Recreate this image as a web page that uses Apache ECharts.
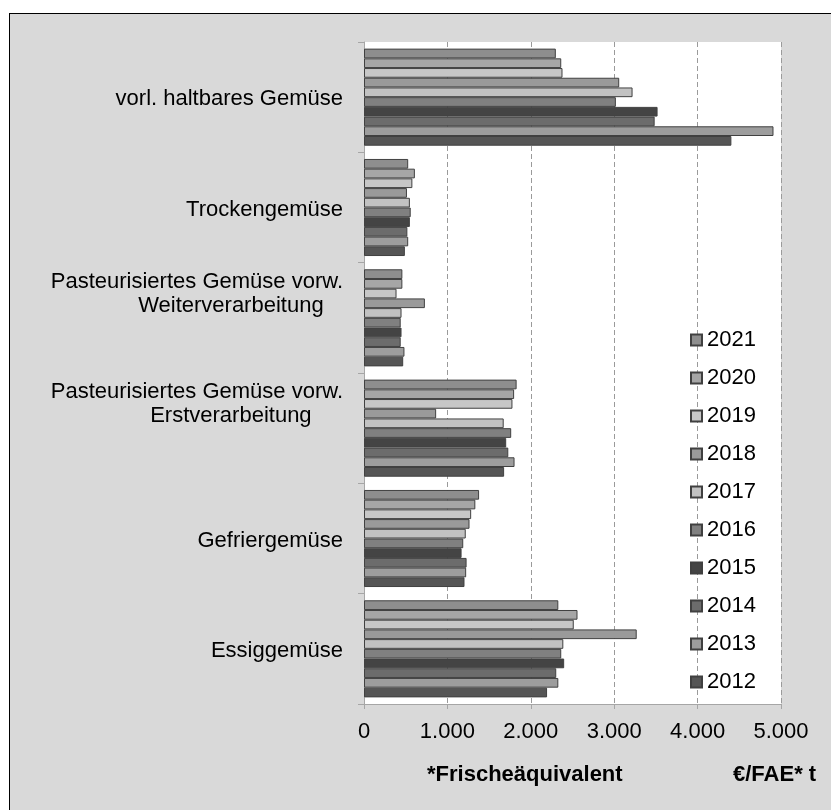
<!DOCTYPE html>
<html>
<head>
<meta charset="utf-8">
<script src="https://cdn.jsdelivr.net/npm/echarts@6/dist/echarts.min.js"></script>
<style>
  html, body { margin: 0; padding: 0; background: #fff; }
  #frame {
    position: absolute; left: 9px; top: 13px; width: 840px; height: 820px;
    background: #d9d9d9; border-left: 1px solid #000; border-top: 1px solid #000;
  }
  #chart { position: absolute; left: 0; top: 0; width: 831px; height: 810px; }
</style>
</head>
<body>
<div id="frame"></div>
<div id="chart"></div>
<script>
// Produkte (von oben nach unten)
const categories = [
  'vorl. haltbares Gemüse',
  'Trockengemüse',
  'Pasteurisiertes Gemüse vorw.\nWeiterverarbeitung',
  'Pasteurisiertes Gemüse vorw.\nErstverarbeitung',
  'Gefriergemüse',
  'Essiggemüse'
];

// Jahre, Reihenfolge der Balken innerhalb einer Gruppe (oben nach unten)
const years = ['2021', '2020', '2019', '2018', '2017', '2016', '2015', '2014', '2013', '2012'];

// €/FAE t je Jahr, Werte in der Reihenfolge der Kategorien
const v2021 = [2300, 530, 460, 1830, 1380, 2330];
const v2020 = [2365, 610, 460, 1800, 1335, 2560];
const v2019 = [2380, 580, 390, 1780, 1285, 2515];
const v2018 = [3060, 515, 730, 865, 1265, 3270];
const v2017 = [3220, 550, 450, 1675, 1220, 2390];
const v2016 = [3020, 560, 440, 1765, 1190, 2365];
const v2015 = [3520, 550, 450, 1705, 1170, 2400];
const v2014 = [3485, 520, 440, 1730, 1230, 2305];
const v2013 = [4910, 530, 485, 1805, 1225, 2330];
const v2012 = [4405, 490, 470, 1680, 1205, 2195];
const seriesValues = [v2021, v2020, v2019, v2018, v2017, v2016, v2015, v2014, v2013, v2012];

const xTicks = [0, 1000, 2000, 3000, 4000, 5000];

const barColors = ['#8e8e8e', '#a6a6a6', '#c7c7c7', '#9a9a9a', '#c2c2c2',
                   '#808080', '#444444', '#6c6c6c', '#9d9d9d', '#555555'];

const fontFamily = '"Liberation Sans", Arial, sans-serif';

const chart = echarts.init(document.getElementById('chart'), null, { renderer: 'canvas' });

// Zweizeilige Beschriftungen sitzen etwas oberhalb der Gruppenmitte
const yData = categories.map(function (c) {
  const twoLines = c.indexOf('\n') >= 0;
  return {
    value: c,
    textStyle: twoLines ? { padding: [0, 0, 48, 0] } : { padding: [4, 0, 0, 0] }
  };
});

chart.setOption({
  backgroundColor: 'transparent',
  animation: false,
  textStyle: { fontFamily: fontFamily },
  grid: {
    left: 364, top: 42, right: 50, bottom: 106,
    show: true, backgroundColor: '#ffffff', borderWidth: 0,
    containLabel: false
  },
  legend: {
    orient: 'vertical',
    left: 690, top: 329, padding: 0,
    itemWidth: 11, itemHeight: 11, itemGap: 16,
    data: years,
    textStyle: { fontSize: 22, color: '#000', lineHeight: 22, fontFamily: fontFamily },
    icon: 'rect'
  },
  xAxis: {
    type: 'value',
    min: 0, max: 5000, interval: 1000,
    axisLine: { show: true, lineStyle: { color: '#a6a6a6', width: 1 } },
    axisTick: { show: true, length: 5, lineStyle: { color: '#a6a6a6' } },
    splitLine: { show: true, lineStyle: { color: '#9a9a9a', type: [5, 3], width: 1 } },
    axisLabel: {
      fontSize: 22, color: '#000', margin: 17,
      formatter: function (v) {
        return xTicks.indexOf(v) >= 0 ? v.toLocaleString('de-DE') : '';
      }
    },
    name: '€/FAE* t',
    nameLocation: 'end',
    nameGap: 0,
    nameTextStyle: {
      fontSize: 22, fontWeight: 'bold', color: '#000',
      align: 'left', verticalAlign: 'top', padding: [60, 0, 0, -48]
    }
  },
  yAxis: {
    type: 'category',
    inverse: true,
    data: yData,
    axisLine: { show: true, lineStyle: { color: '#a6a6a6', width: 1 } },
    axisTick: { show: true, length: 6, lineStyle: { color: '#a6a6a6' } },
    splitLine: { show: false },
    axisLabel: {
      fontSize: 22, color: '#000', margin: 21, lineHeight: 24,
      formatter: function (v) {
        return v.split('\n').map(function (l, i) {
          return (i === 0 ? '{c|' : '{d|') + l + '}';
        }).join('\n');
      },
      rich: {
        c: { align: 'center', fontSize: 22, color: '#000', lineHeight: 24 },
        d: { align: 'center', fontSize: 22, color: '#000', lineHeight: 24, padding: [0, 0, 0, 68] }
      }
    }
  },
  graphic: [{
    type: 'text',
    left: 427, top: 764,
    style: { text: '*Frischeäquivalent', fontSize: 22, fontWeight: 'bold', fill: '#000', fontFamily: fontFamily }
  }],
  series: years.map(function (y, i) {
    return {
      name: y,
      type: 'bar',
      data: seriesValues[i],
      barGap: '0%',
      barCategoryGap: '12%',
      itemStyle: { color: barColors[i], borderColor: '#404040', borderWidth: 1 }
    };
  })
});
</script>
</body>
</html>
